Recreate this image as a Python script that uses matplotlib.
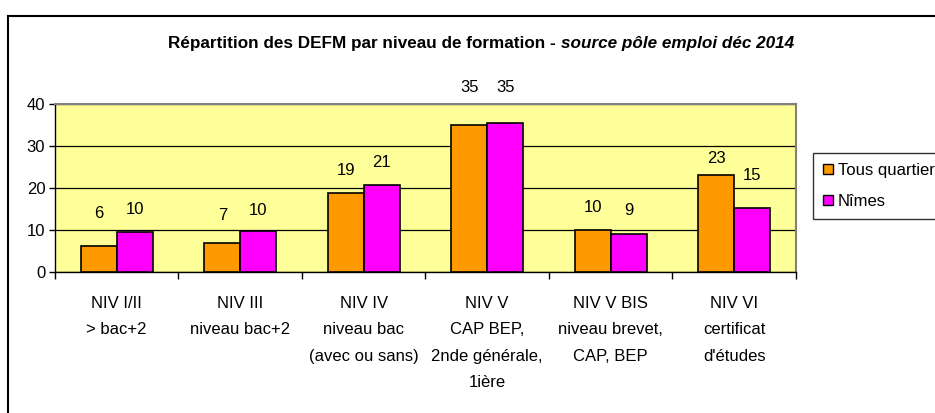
import numpy as np
import matplotlib
matplotlib.use('Agg')
from matplotlib import pyplot as plt
from matplotlib import font_manager
from matplotlib.patches import Rectangle, Patch

categories = ['NIV I/II\n> bac+2', 'NIV III\nniveau bac+2', 'NIV IV\nniveau bac\n(avec ou sans)',
              'NIV V\nCAP BEP,\n2nde générale,\n1ière', 'NIV V BIS\nniveau brevet,\nCAP, BEP',
              'NIV VI\ncertificat\nd\'études']
tous_quartiers = [6.2, 6.9, 18.8, 35.0, 10.0, 23.1]
nimes = [9.6, 9.9, 20.7, 35.4, 9.0, 15.2]
series_names = ['Tous quartiers', 'Nîmes']
yticks = [0, 10, 20, 30, 40]

ORANGE = '#FF9900'
MAGENTA = '#FF00FF'
PLOT_BG = '#FFFF99'

names = {f.name for f in font_manager.fontManager.ttflist}
narrow = 'Liberation Sans Narrow' in names
if narrow:
    plt.rcParams['font.family'] = ['Liberation Sans Narrow', 'DejaVu Sans']
    FS = 14
else:
    plt.rcParams['font.family'] = ['Liberation Sans', 'DejaVu Sans']
    FS = 12

fig = plt.figure(figsize=(9.35, 4.13), dpi=100)
ax = fig.add_axes([0.0588, 0.341, 0.7925, 0.407])
ax.set_facecolor(PLOT_BG)

x = np.arange(len(categories))
w = 0.29
b1 = ax.bar(x - w / 2, tous_quartiers, w, color=ORANGE, edgecolor='black', linewidth=1.2, zorder=3)
b2 = ax.bar(x + w / 2, nimes, w, color=MAGENTA, edgecolor='black', linewidth=1.2, zorder=3)

# Excel put the value labels at uneven heights above the bars (pixels)
label_dy = [[33, 28, 23, 38, 23, 17], [22, 20, 23, 36, 24, 33]]
for bars, vals, dys in ((b1, tous_quartiers, label_dy[0]), (b2, nimes, label_dy[1])):
    for rect, v, dy in zip(bars, vals, dys):
        ax.annotate('%.0f' % v, (rect.get_x() + rect.get_width() / 2, v),
                    xytext=(0, dy), textcoords='offset pixels', ha='center', va='center',
                    fontsize=FS, annotation_clip=False)

ax.set_xlim(-0.5, len(categories) - 0.5)
ax.set_ylim(0, 40)
ax.set_yticks(yticks)
ax.tick_params(axis='y', direction='out', length=4, width=1, labelsize=FS, pad=3)
ax.yaxis.grid(True, color='black', linewidth=0.9, zorder=0)
ax.set_axisbelow(True)

ax.set_xticks(np.arange(len(categories) + 1) - 0.5)
ax.set_xticklabels([])
ax.tick_params(axis='x', which='major', direction='out', length=5, width=1)
ax.set_xticks(x, minor=True)
ax.set_xticklabels(categories, minor=True, fontsize=FS, linespacing=1.7 if narrow else 1.95)
ax.tick_params(axis='x', which='minor', length=0, pad=17)

for s in ('top', 'right'):
    ax.spines[s].set_color('#808080')
    ax.spines[s].set_linewidth(1.5)
for s in ('left', 'bottom'):
    ax.spines[s].set_color('black')
    ax.spines[s].set_linewidth(1)

tfs = FS if narrow else 12.3
t1 = fig.text(0.5, 0.895, 'Répartition des DEFM par niveau de formation - ', ha='left', va='center',
              fontsize=tfs, fontweight='bold')
t2 = fig.text(0.5, 0.895, 'source pôle emploi déc 2014', ha='left', va='center',
              fontsize=tfs, fontweight='bold', style='italic')
fig.canvas.draw()
r = fig.canvas.get_renderer()
w1 = t1.get_window_extent(r).width
w2 = t2.get_window_extent(r).width
x0 = 481 - (w1 + w2) / 2
t1.set_x(x0 / 935)
t2.set_x((x0 + w1) / 935)

handles = [Patch(facecolor=ORANGE, edgecolor='black'), Patch(facecolor=MAGENTA, edgecolor='black')]
leg = fig.legend(handles, series_names, loc='upper left', bbox_to_anchor=(813 / 935, 1 - 153 / 413),
                 fontsize=FS, frameon=True, fancybox=False, edgecolor='black',
                 handlelength=0.6, handleheight=0.6, handletextpad=0.3, labelspacing=0.95,
                 borderpad=0.6, borderaxespad=0)
leg.get_frame().set_linewidth(1)

fig.patches.append(Rectangle((8 / 935, -0.2), 1.2, 1 - 16 / 413 + 0.2, transform=fig.transFigure,
                             fill=False, edgecolor='black', linewidth=1.5))

fig.savefig('out.png', dpi=100)
